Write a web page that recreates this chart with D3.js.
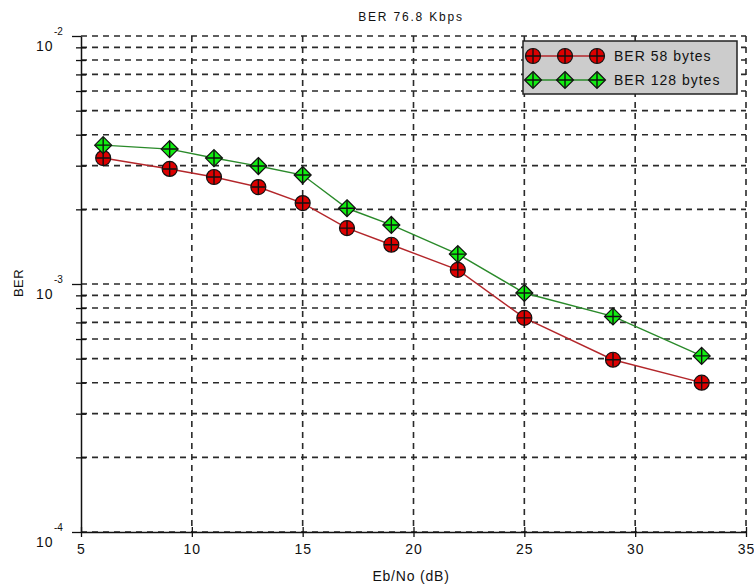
<!DOCTYPE html>
<html>
<head>
<meta charset="utf-8">
<script src="https://cdn.jsdelivr.net/npm/d3@7"></script>
<style>
  body { margin: 0; background: #fff; }
  text { font-family: "Liberation Sans", Arial, sans-serif; fill: #111; }
</style>
</head>
<body>
<svg id="chart" width="754" height="584"></svg>
<script>
// Eb/No operating points (dB)
const ebNo = [6, 9, 11, 13, 15, 17, 19, 22, 25, 29, 33];
// measured bit error rates
const ber58 = [3.22e-3, 2.91e-3, 2.70e-3, 2.46e-3, 2.12e-3, 1.68e-3, 1.44e-3, 1.14e-3, 7.3e-4, 4.95e-4, 4.0e-4];
const ber128 = [3.63e-3, 3.50e-3, 3.22e-3, 2.99e-3, 2.75e-3, 2.02e-3, 1.73e-3, 1.32e-3, 9.2e-4, 7.4e-4, 5.13e-4];
const seriesNames = ["BER 58 bytes", "BER 128 bytes"];
const xTickValues = [5, 10, 15, 20, 25, 30, 35];
const yDecadeExponents = [-2, -3, -4];
const chartTitle = "BER 76.8 Kbps";
const xTitle = "Eb/No (dB)";
const yTitle = "BER";

const svg = d3.select("#chart");
const plotLeft = 81, plotRight = 746, plotTop = 36, plotBottom = 532;

const x = d3.scaleLinear().domain([5, 35]).range([plotLeft, plotRight]);
const y = d3.scaleLog().domain([1e-4, 1e-2]).range([plotBottom, plotTop]);

const series = [
  { name: seriesNames[0], values: ber58, line: "#b3262a", fill: "#dd0000", shape: "circle" },
  { name: seriesNames[1], values: ber128, line: "#2a8a2a", fill: "#11ee11", shape: "diamond" }
];

// dashed grid: every log tick horizontally, every x tick vertically
const grid = svg.append("g").attr("stroke", "#2a2a2a").attr("stroke-width", 1.6)
  .attr("stroke-dasharray", "6,5");
grid.selectAll("line.h").data(y.ticks()).join("line").attr("class", "h")
  .attr("x1", plotLeft).attr("x2", plotRight)
  .attr("y1", d => y(d)).attr("y2", d => y(d));
grid.selectAll("line.v").data(xTickValues.slice(1)).join("line").attr("class", "v")
  .attr("x1", d => x(d)).attr("x2", d => x(d))
  .attr("y1", plotTop).attr("y2", plotBottom);

// x axis
const xAxis = d3.axisBottom(x).tickValues(xTickValues).tickSizeInner(5).tickSizeOuter(0).tickPadding(7);
const gx = svg.append("g").attr("transform", `translate(0,${plotBottom})`).call(xAxis);
gx.select(".domain").attr("stroke", "#111").attr("stroke-width", 1.5);
gx.selectAll(".tick line").attr("stroke", "#111").attr("stroke-width", 1.3).attr("y1", -5);
gx.selectAll(".tick text").attr("font-size", 14).attr("fill", "#111").attr("letter-spacing", 1)
  .style("font-family", "'Liberation Sans', Arial, sans-serif");

// y axis: log ticks, long ones at the decades
const majors = yDecadeExponents.map(e => Math.pow(10, e));
const isMajor = v => majors.some(m => Math.abs(v / m - 1) < 1e-6);
const yAxis = d3.axisLeft(y).tickValues(y.ticks()).tickFormat("").tickSizeOuter(0)
  .tickSizeInner(5);
const gy = svg.append("g").attr("transform", `translate(${plotLeft},0)`).call(yAxis);
gy.select(".domain").attr("stroke", "#111").attr("stroke-width", 1.5);
gy.selectAll(".tick line").attr("stroke", "#111").attr("stroke-width", 1.3)
  .attr("x1", d => isMajor(d) ? 0 : 5)
  .attr("x2", d => isMajor(d) ? -9 : -5);

// decade labels as 10 with superscript exponent
const yl = svg.append("g");
yDecadeExponents.forEach(e => {
  const py = y(Math.pow(10, e));
  yl.append("text").attr("x", 36).attr("y", py + 15).attr("font-size", 14)
    .attr("letter-spacing", 1).text("10");
  yl.append("text").attr("x", 54).attr("y", py - 1).attr("font-size", 10).text("-" + Math.abs(e));
});

// series lines
const line = d3.line().x(d => x(d[0])).y(d => y(d[1]));
series.forEach(s => {
  svg.append("path").datum(ebNo.map((v, i) => [v, s.values[i]]))
    .attr("fill", "none").attr("stroke", s.line).attr("stroke-width", 1.4)
    .attr("d", line);
});

function marker(g, shape, fill) {
  if (shape === "circle") {
    g.append("circle").attr("r", 7.5).attr("fill", fill).attr("stroke", "#111").attr("stroke-width", 1.2);
    g.append("path").attr("d", "M-7,0H7M0,-7V7").attr("stroke", "#111").attr("stroke-width", 1.4);
  } else {
    g.append("path").attr("d", "M0,-8.5L8.5,0L0,8.5L-8.5,0Z").attr("fill", fill)
      .attr("stroke", "#111").attr("stroke-width", 1.2);
    g.append("path").attr("d", "M-8,0H8M0,-8V8").attr("stroke", "#111").attr("stroke-width", 1.4);
  }
}

series.forEach(s => {
  ebNo.forEach((v, i) => {
    const g = svg.append("g").attr("transform", `translate(${x(v)},${y(s.values[i])})`);
    marker(g, s.shape, s.fill);
  });
});

// legend
const lg = svg.append("g");
lg.append("rect").attr("x", 523).attr("y", 41).attr("width", 214).attr("height", 53)
  .attr("fill", "#cccccc").attr("stroke", "#222").attr("stroke-width", 1.5);
series.forEach((s, i) => {
  const ly = 56 + i * 24;
  lg.append("line").attr("x1", 533).attr("x2", 597).attr("y1", ly).attr("y2", ly)
    .attr("stroke", s.line).attr("stroke-width", 1.4);
  [533, 565, 597].forEach(mx => marker(lg.append("g").attr("transform", `translate(${mx},${ly})`), s.shape, s.fill));
  lg.append("text").attr("x", 614).attr("y", ly + 5).attr("font-size", 14)
    .attr("letter-spacing", 1).text(s.name);
});

// titles
svg.append("text").attr("x", 411).attr("y", 21).attr("text-anchor", "middle")
  .attr("font-size", 12).attr("letter-spacing", 1.8).text(chartTitle);
svg.append("text").attr("x", 411).attr("y", 581).attr("text-anchor", "middle")
  .attr("font-size", 14).attr("letter-spacing", 0.8).text(xTitle);
svg.append("text").attr("transform", "translate(23,283) rotate(-90)").attr("text-anchor", "middle")
  .attr("font-size", 13).attr("letter-spacing", 0.5).text(yTitle);
</script>
</body>
</html>
